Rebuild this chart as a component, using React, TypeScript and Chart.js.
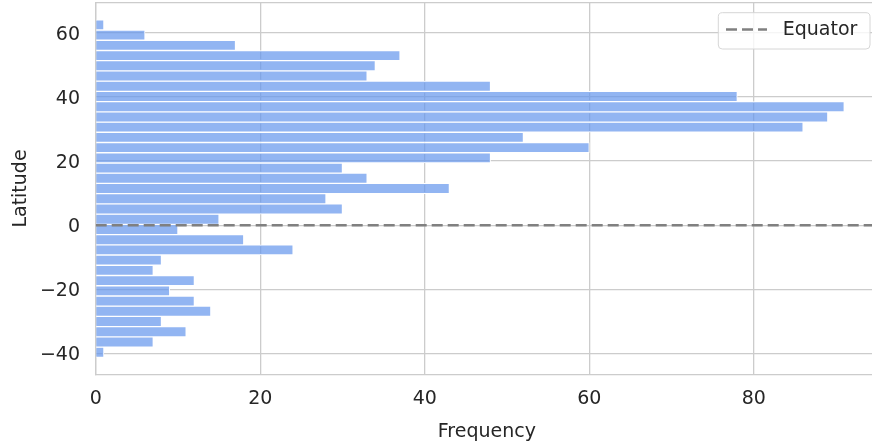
import React, { useEffect, useRef } from "react";
import { Chart, registerables } from "chart.js";

Chart.register(...registerables);

// Histogram bin centres (latitude, degrees), bottom to top
const binCenters = [
  -39.61, -36.42, -33.23, -30.04, -26.85, -23.66, -20.47, -17.28, -14.09, -10.9, -7.71,
  -4.52, -1.33, 1.87, 5.06, 8.25, 11.44, 14.63, 17.82, 21.01, 24.2, 27.39, 30.58, 33.77,
  36.96, 40.15, 43.34, 46.53, 49.72, 52.91, 56.1, 59.29, 62.48,
];
// Frequency per bin, bottom to top
const counts = [
  1, 7, 11, 8, 14, 12, 9, 12, 7, 8, 24, 18, 10, 15, 30, 28, 43, 33, 30, 48, 60, 52, 86, 89,
  91, 78, 48, 33, 34, 37, 17, 6, 1,
];
const equatorLatitude = 0;
const legendLabel = "Equator";
const xTitle = "Frequency";
const yTitle = "Latitude";
const xRange = [0, 95.1];
const yRange = [-46.5, 69.4];
const tickStep = 20;

const FONT = "'DejaVu Sans', sans-serif";
const TEXT = "#262626";
const GRID = "#cccccc";
const BAR = "rgba(100,149,237,0.7)";
const EQ = "#808080";
const DASH = [11, 5];

const fmt = (v: any) => {
  const n = Number(v);
  return n < 0 ? "\u2212" + String(Math.abs(n)) : String(n);
};

const framePlugin = {
  id: "frame",
  afterDraw(chart: any) {
    const { ctx, chartArea: a } = chart;
    ctx.save();
    ctx.strokeStyle = GRID;
    ctx.lineWidth = 1.3;
    ctx.beginPath();
    ctx.moveTo(a.left, a.top);
    ctx.lineTo(a.right, a.top);
    ctx.lineTo(a.right, a.bottom);
    ctx.stroke();

    // legend box
    const bx = 718.3, by = 12.7, bw = 151.7, bh = 36.3, r = 4;
    ctx.beginPath();
    ctx.moveTo(bx + r, by);
    ctx.lineTo(bx + bw - r, by);
    ctx.quadraticCurveTo(bx + bw, by, bx + bw, by + r);
    ctx.lineTo(bx + bw, by + bh - r);
    ctx.quadraticCurveTo(bx + bw, by + bh, bx + bw - r, by + bh);
    ctx.lineTo(bx + r, by + bh);
    ctx.quadraticCurveTo(bx, by + bh, bx, by + bh - r);
    ctx.lineTo(bx, by + r);
    ctx.quadraticCurveTo(bx, by, bx + r, by);
    ctx.closePath();
    ctx.fillStyle = "rgba(255,255,255,0.8)";
    ctx.fill();
    ctx.strokeStyle = "#d6d6d6";
    ctx.lineWidth = 1;
    ctx.stroke();

    ctx.beginPath();
    ctx.setLineDash(DASH);
    ctx.strokeStyle = EQ;
    ctx.lineWidth = 2.6;
    ctx.moveTo(726, 29.5);
    ctx.lineTo(767, 29.5);
    ctx.stroke();
    ctx.setLineDash([]);

    ctx.fillStyle = TEXT;
    ctx.font = `19px ${FONT}`;
    ctx.textBaseline = "middle";
    ctx.textAlign = "left";
    ctx.fillText(legendLabel, 782.7, 30.5);
    ctx.restore();
  },
};

export default function App() {
  const ref = useRef<HTMLCanvasElement>(null);
  useEffect(() => {
    if (!ref.current) return;
    const chart = new Chart(ref.current, {
      type: "bar",
      data: {
        datasets: [
          {
            type: "line",
            data: [
              { x: xRange[0], y: equatorLatitude },
              { x: xRange[1], y: equatorLatitude },
            ],
            borderColor: EQ,
            borderWidth: 2.6,
            borderDash: DASH,
            pointRadius: 0,
            order: 0,
          } as any,
          {
            type: "bar",
            data: binCenters.map((c, i) => ({ x: counts[i], y: c })),
            backgroundColor: BAR,
            borderColor: "#ffffff",
            borderWidth: 1,
            barPercentage: 1,
            categoryPercentage: 1,
            order: 1,
          } as any,
        ],
      },
      options: {
        indexAxis: "y",
        animation: false,
        responsive: false,
        devicePixelRatio: 1,
        layout: { padding: { top: 2.7, left: 0, right: 0, bottom: 0 } },
        plugins: { legend: { display: false }, tooltip: { enabled: false } },
        scales: {
          x: {
            type: "linear",
            position: "bottom",
            offset: false,
            min: xRange[0],
            max: xRange[1],
            ticks: {
              stepSize: tickStep,
              includeBounds: false,
              font: { family: FONT, size: 19 },
              color: TEXT,
              padding: 13.6,
              maxRotation: 0,
              callback: fmt,
            },
            grid: { color: GRID, lineWidth: 1.3, drawTicks: false, offset: false },
            border: { color: GRID, width: 1.3 },
            title: {
              display: true,
              text: xTitle,
              font: { family: FONT, size: 19 },
              color: TEXT,
              padding: { top: 5.3, bottom: 0 },
            },
            afterFit: (s: any) => {
              s.height = 68.7;
              s.paddingLeft = 0;
              s.paddingRight = 0;
            },
          },
          y: {
            type: "linear",
            position: "left",
            offset: false,
            min: yRange[0],
            max: yRange[1],
            ticks: {
              stepSize: tickStep,
              includeBounds: false,
              font: { family: FONT, size: 19 },
              color: TEXT,
              padding: 15.7,
              labelOffset: 2,
              callback: fmt,
            },
            grid: { color: GRID, lineWidth: 1.3, drawTicks: false, offset: false },
            border: { color: GRID, width: 1.3 },
            title: {
              display: true,
              text: yTitle,
              font: { family: FONT, size: 19 },
              color: TEXT,
              padding: { top: 9.6, bottom: 0 },
            },
            afterFit: (s: any) => {
              s.width = 95.7;
              s.paddingTop = 0;
              s.paddingBottom = 0;
            },
          },
        },
      } as any,
      plugins: [framePlugin],
    });
    return () => chart.destroy();
  }, []);
  return (
    <div
      style={{
        position: "absolute",
        left: 0,
        top: 0,
        width: 872,
        height: 443,
        overflow: "hidden",
        background: "#ffffff",
      }}
    >
      <canvas ref={ref} width={878} height={443} style={{ display: "block" }} />
    </div>
  );
}
